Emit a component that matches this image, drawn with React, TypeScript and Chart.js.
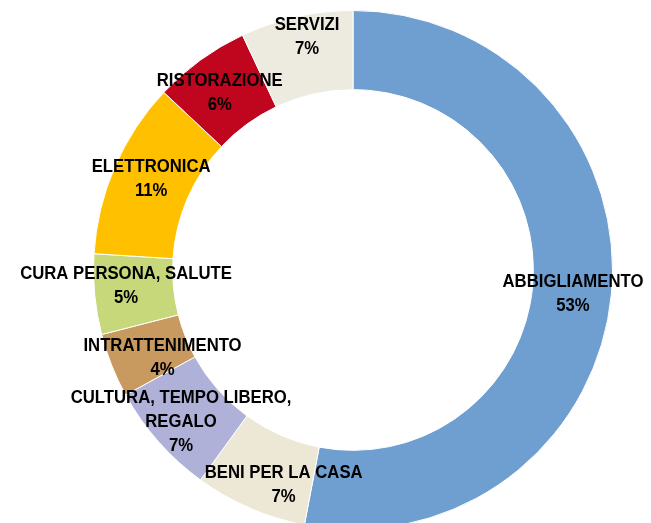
import React, { useEffect, useRef } from "react";
import { Chart, registerables } from "chart.js";

Chart.register(...registerables);

const categories: string[][] = [
  ["ABBIGLIAMENTO"],
  ["BENI PER LA CASA"],
  ["CULTURA, TEMPO LIBERO,", "REGALO"],
  ["INTRATTENIMENTO"],
  ["CURA PERSONA, SALUTE"],
  ["ELETTRONICA"],
  ["RISTORAZIONE"],
  ["SERVIZI"],
];
const values: number[] = [53, 7, 7, 4, 5, 11, 6, 7];
const colors: string[] = [
  "#6F9FD1",
  "#EDE7D6",
  "#B0B1D8",
  "#C89A5F",
  "#C7D87A",
  "#FFC000",
  "#C0061E",
  "#EDEADF",
];
// label nudges (style only), pixels from each arc's centre point
const labelNudge: [number, number][] = [
  [1, 3],
  [18, 13],
  [-7, 6],
  [14, 7],
  [-8, -5],
  [0, -4],
  [-4, 1],
  [2, -19],
];

const labelPlugin = {
  id: "ringLabels",
  afterDatasetsDraw(chart: any) {
    const ctx = chart.ctx as CanvasRenderingContext2D;
    const meta = chart.getDatasetMeta(0);
    const total = values.reduce((a, b) => a + b, 0);
    const lineH = 24;
    const sx = 0.88;
    ctx.save();
    ctx.fillStyle = "#000";
    ctx.font = "bold 19px 'Liberation Sans', Arial, sans-serif";
    ctx.textAlign = "center";
    ctx.textBaseline = "middle";
    meta.data.forEach((arc: any, i: number) => {
      const p = arc.getCenterPoint();
      const [dx, dy] = labelNudge[i] || [0, 0];
      const lines = [...categories[i], Math.round((values[i] / total) * 100) + "%"];
      const startY = p.y + dy - ((lines.length - 1) * lineH) / 2;
      lines.forEach((t, k) => {
        ctx.save();
        ctx.translate(p.x + dx, startY + k * lineH);
        ctx.scale(sx, 1);
        ctx.fillText(t, 0, 0);
        ctx.restore();
      });
    });
    ctx.restore();
  },
};

export default function App() {
  const ref = useRef<HTMLCanvasElement | null>(null);
  useEffect(() => {
    if (!ref.current) return;
    const chart = new Chart(ref.current, {
      type: "doughnut",
      data: {
        labels: categories.map((c) => c.join(" ")),
        datasets: [
          {
            data: values,
            backgroundColor: colors,
            borderColor: "#FFFFFF",
            borderWidth: 1,
          },
        ],
      },
      options: {
        responsive: false,
        animation: false,
        cutout: "69.5%",
        layout: { padding: { left: 93, right: 38, top: 10, bottom: 10 } },
        plugins: {
          legend: { display: false },
          tooltip: { enabled: false },
        },
      },
      plugins: [labelPlugin],
    });
    return () => chart.destroy();
  }, []);
  return (
    <div style={{ position: "fixed", left: 0, top: 0, width: 651, height: 540, background: "#fff" }}>
      <canvas ref={ref} width={651} height={540} />
    </div>
  );
}
